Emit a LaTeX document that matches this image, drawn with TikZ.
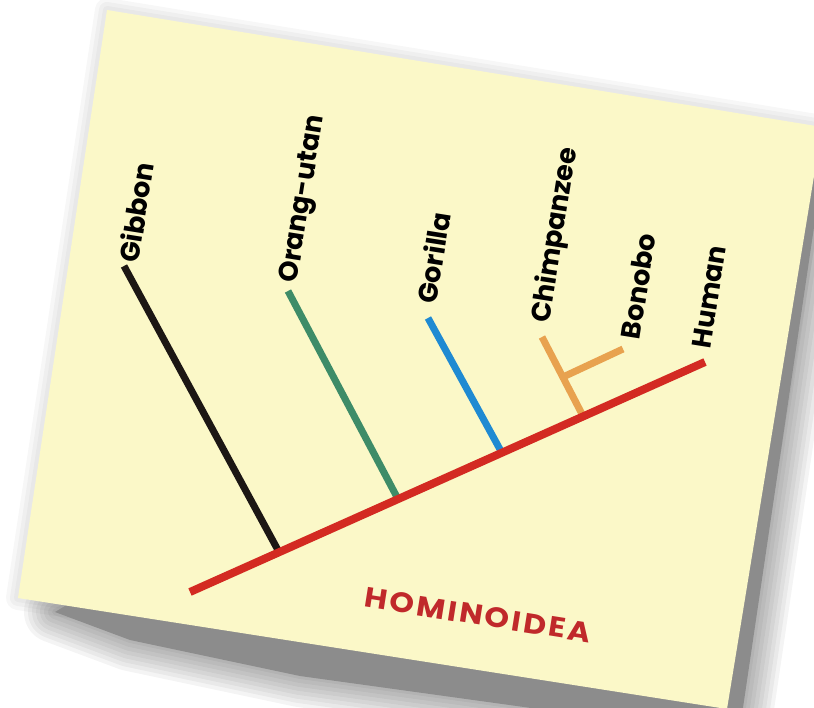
\documentclass[tikz,border=0pt]{standalone}
\usepackage{fontspec}
\setmainfont{Poppins}
\usetikzlibrary{calc}
\definecolor{CardYellow}{HTML}{FBF8C8}
\definecolor{StemRed}{HTML}{D32A22}
\definecolor{GibbonBlack}{HTML}{1C1714}
\definecolor{OrangGreen}{HTML}{3E8C68}
\definecolor{GorillaBlue}{HTML}{1F8AD2}
\definecolor{ChimpOrange}{HTML}{E8A24F}
\definecolor{TitleRed}{HTML}{C0292B}

\begin{document}
\begin{tikzpicture}[x=1pt, y=-1pt, every node/.style={inner sep=0pt},
  branch/.style={line width=7pt},
  taxon/.style={rotate=81, anchor=west, font=\bfseries\fontsize{27}{30}\selectfont}]
\useasboundingbox (0,0) rectangle (814,707);
% card corners
\coordinate (tl) at (107,10);
\coordinate (tr) at (822,127);
\coordinate (br) at (727,709);
\coordinate (bl) at (18,598);
% shadow and glow
\foreach \w in {8,16,24}
  \draw[black, opacity=0.03, line width=\w pt, line join=round] (tl) -- (tr) -- (br) -- (bl) -- cycle;
\foreach \w in {6,14,22,30,38,46,54,62}
  \draw[black, opacity=0.045, line width=\w pt, line join=round]
    (55,612) -- (130,640) -- (300,676) -- (560,712) -- (740,728) -- (818,200) -- (812,160) -- cycle;
\fill[black!45] (55,612) -- (130,640) -- (300,676) -- (560,712) -- (740,728) -- (818,200) -- (812,160) -- cycle;
\fill[CardYellow] (tl) -- (tr) -- (br) -- (bl) -- cycle;

% tree
\coordinate (root) at (190,592);
\coordinate (humanTip) at (705,362);
\coordinate (gibbonTip) at (124,266);
\coordinate (gibbonFork) at (279,552);
\coordinate (orangTip) at (288,291);
\coordinate (orangFork) at (398,499);
\coordinate (gorillaTip) at (428,318);
\coordinate (gorillaFork) at (502,453);
\coordinate (chimpTip) at (542,337);
\coordinate (chimpFork) at (583,416);
\coordinate (panFork) at (563,377);
\coordinate (bonoboTip) at (623,349);

\draw[branch,GibbonBlack] (gibbonTip) -- (gibbonFork);
\draw[branch,OrangGreen] (orangTip) -- (orangFork);
\draw[branch,GorillaBlue] (gorillaTip) -- (gorillaFork);
\draw[branch,ChimpOrange] (chimpTip) -- (chimpFork);
\draw[branch,ChimpOrange] (panFork) -- (bonoboTip);
\draw[line width=8pt,StemRed] (root) -- (humanTip);

% labels
\node[taxon] (gibbon) at (128,262) {Gibbon};
\node[taxon] (orang) at (291,283) {Orang-utan};
\node[taxon] (gorilla) at (426,303) {Gorilla};
\node[taxon] (chimp) at (542,323) {Chimpanzee};
\node[taxon] (bonobo) at (630,339) {Bonobo};
\node[taxon] (human) at (701,348) {Human};
\node[rotate=-9, xscale=1.12, text=TitleRed, font=\bfseries\fontsize{28}{30}\selectfont\addfontfeature{LetterSpace=8}] (hominoidea) at (478,615) {HOMINOIDEA};
\end{tikzpicture}
\end{document}
